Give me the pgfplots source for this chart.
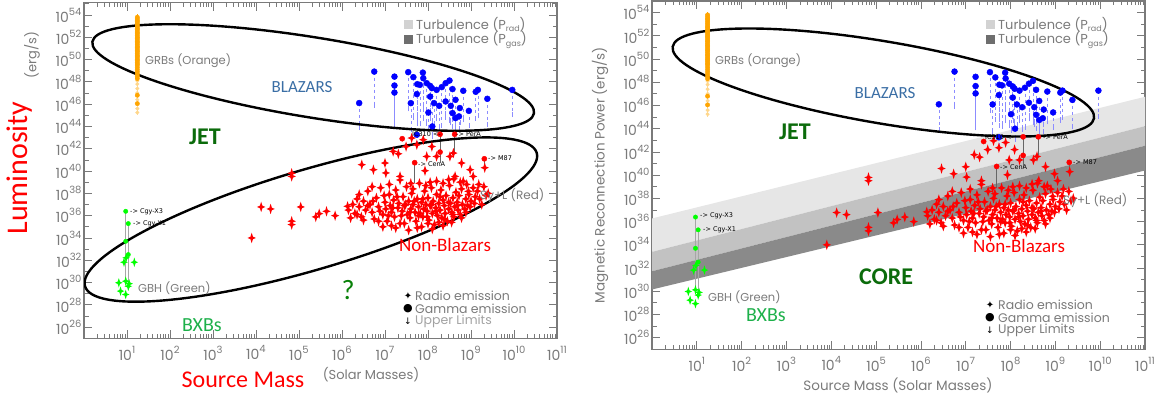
\documentclass[border=0pt]{standalone}
\usepackage{fontspec}
\setmainfont{Poppins}
\newfontfamily\carl{Carlito}
\newfontfamily\dejavu{DejaVu Sans}
\usepackage{pgfplots}
\usepackage{pgfplotstable}
\pgfplotsset{compat=1.18}

\definecolor{tgray}{HTML}{7A7A7A}
\definecolor{blz}{HTML}{3A6EA5}
\definecolor{jetg}{HTML}{0B6B0B}
\definecolor{bxb}{HTML}{1DB04A}
\definecolor{lband}{HTML}{E6E6E6}
\definecolor{mband}{HTML}{C2C2C2}
\definecolor{dband}{HTML}{8A8A8A}
\definecolor{lime}{HTML}{00FF00}
\definecolor{grbc}{HTML}{FFA500}
\definecolor{blue1}{HTML}{0000FF}

\newcommand{\tl}[1]{10\raisebox{0.5em}{\fontsize{10}{10}\selectfont #1}}

\pgfdeclareplotmark{sparkle}{%
 \pgfpathmoveto{\pgfqpoint{0pt}{1.25\pgfplotmarksize}}%
 \pgfpathlineto{\pgfqpoint{0.3\pgfplotmarksize}{0.3\pgfplotmarksize}}%
 \pgfpathlineto{\pgfqpoint{\pgfplotmarksize}{0pt}}%
 \pgfpathlineto{\pgfqpoint{0.3\pgfplotmarksize}{-0.3\pgfplotmarksize}}%
 \pgfpathlineto{\pgfqpoint{0pt}{-1.25\pgfplotmarksize}}%
 \pgfpathlineto{\pgfqpoint{-0.3\pgfplotmarksize}{-0.3\pgfplotmarksize}}%
 \pgfpathlineto{\pgfqpoint{-\pgfplotmarksize}{0pt}}%
 \pgfpathlineto{\pgfqpoint{-0.3\pgfplotmarksize}{0.3\pgfplotmarksize}}%
 \pgfpathclose\pgfusepathqfill}

% log10(mass)  log10(L)  error
\pgfplotstableread{
x y e
1.24 53.80 0.25
1.24 53.65 0.25
1.24 53.50 0.25
1.24 53.40 0.25
1.24 53.25 0.25
1.24 53.10 0.25
1.24 52.95 0.25
1.24 52.80 0.25
1.24 52.70 0.25
1.24 52.55 0.25
1.24 52.40 0.25
1.24 52.30 0.25
1.24 52.15 0.25
1.24 52.00 0.25
1.24 51.90 0.25
1.24 51.75 0.25
1.24 51.60 0.25
1.24 51.50 0.25
1.24 51.35 0.25
1.24 51.20 0.25
1.24 51.10 0.25
1.24 50.95 0.25
1.24 50.80 0.25
1.24 50.70 0.25
1.24 50.55 0.25
1.24 50.40 0.25
1.24 50.30 0.25
1.24 50.15 0.25
1.24 50.00 0.25
1.24 49.90 0.25
1.24 49.75 0.25
1.24 49.60 0.25
1.24 49.50 0.25
1.24 49.30 0.25
1.24 49.10 0.25
1.24 48.90 0.25
1.24 48.70 0.25
1.24 48.50 0.25
1.24 48.30 0.25
1.24 46.80 0.15
1.24 46.05 0.15
}\grb

\pgfplotstableread{
x y e
1.24 48.10 0.3
1.24 47.80 0.3
1.24 47.40 0.3
1.24 47.00 0.3
1.24 46.40 0.3
1.24 45.60 0.3
1.24 45.25 0.2
}\grbfaint

\pgfplotstableread{
x y e
6.40 46.10 2.2
6.75 48.92 3.0
7.22 48.47 4.4
7.22 47.67 3.2
7.22 47.04 2.6
7.54 48.87 3.3
7.66 48.42 3.6
7.88 48.83 4.1
7.89 48.33 2.5
7.75 47.79 2.8
7.81 47.73 3.5
7.97 47.88 3.6
8.05 47.64 2.2
8.09 47.44 3.1
8.20 47.28 2.6
8.32 47.53 3.4
8.41 47.88 2.7
8.50 48.12 3.6
8.57 47.35 2.5
8.82 47.20 2.6
9.11 47.11 2.4
9.16 47.28 2.3
9.38 46.48 2.3
9.96 47.28 2.2
7.74 46.90 2.6
8.05 46.68 2.0
8.14 46.09 1.8
8.26 45.85 1.9
8.41 46.24 1.4
8.64 46.39 2.0
8.53 45.85 1.5
8.74 45.65 1.3
7.60 46.09 2.4
8.01 45.25 1.4
8.57 45.20 1.2
8.64 44.75 1.0
8.72 44.90 1.1
8.95 45.40 1.3
8.10 44.00 0.9
7.74 43.26 0.8
}\blz

\pgfplotstableread{
x y
8.28 43.30
8.62 43.30
8.28 41.70
7.69 40.75
9.31 41.10
7.40 42.90
}\redgamma

\pgfplotstableread{
x y
7.62 42.96
7.89 42.81
7.19 41.76
7.31 41.55
7.49 42.20
7.74 42.36
8.09 42.20
7.97 41.31
8.20 41.31
8.59 41.61
8.51 41.31
7.00 40.72
6.46 40.57
6.73 40.12
7.93 40.03
7.02 39.83
7.35 39.52
9.32 40.30
8.78 40.72
8.98 40.12
8.63 39.52
8.48 39.23
8.20 39.08
8.82 39.08
8.94 38.18
9.05 39.52
4.83 39.52
4.83 39.80
3.90 34.00
4.12 36.78
4.34 36.60
4.83 35.20
4.83 35.50
5.04 36.78
5.39 35.89
5.47 36.18
5.64 36.39
5.84 36.00
6.13 36.84
6.15 36.5
6.25 37.0
6.30 36.2
6.35 37.5
6.40 36.8
6.45 35.9
6.50 37.3
6.55 36.5
6.60 38.2
6.65 37.0
6.70 36.3
6.75 35.7
6.80 37.6
6.85 36.8
6.90 38.5
6.95 36.1
7.00 37.2
7.02 36.6
7.05 35.5
7.10 37.9
7.12 36.9
7.15 36.3
7.20 37.4
7.22 35.9
7.25 38.3
7.30 36.7
7.32 37.1
7.35 35.3
7.40 36.4
7.42 37.7
7.45 36.9
7.50 38.6
7.52 36.1
7.55 37.3
7.58 35.8
7.60 36.6
7.62 38.0
7.65 37.0
7.70 36.3
7.72 35.5
7.75 37.5
7.78 36.8
7.80 38.9
7.82 36.2
7.85 37.2
7.88 35.9
7.90 36.6
7.92 38.2
7.95 37.0
7.98 36.4
8.00 37.6
8.02 35.6
8.05 36.9
8.08 38.5
8.10 36.2
8.12 37.3
8.15 35.2
8.18 36.7
8.20 37.9
8.22 36.0
8.25 37.1
8.28 36.5
8.30 38.3
8.32 35.8
8.35 37.4
8.38 36.9
8.40 36.2
8.42 37.8
8.45 35.5
8.48 36.6
8.50 38.7
8.52 37.1
8.55 36.3
8.58 37.6
8.60 35.9
8.62 36.8
8.65 38.1
8.68 37.2
8.70 36.5
8.72 37.8
8.75 36.1
8.78 38.4
8.80 37.0
8.85 36.6
8.88 37.5
8.90 38.8
8.92 36.9
8.95 37.9
9.00 37.3
9.05 38.5
9.10 37.7
9.15 38.2
9.20 37.5
9.30 38.6
9.40 38.0
7.10 38.8
7.35 39.2
7.60 38.9
6.95 35.0
7.25 34.9
7.55 34.7
7.85 35.0
8.10 34.8
8.35 35.1
8.05 39.0
8.60 39.3
6.20 35.8
6.35 36.1
6.50 35.6
6.60 36.9
6.72 37.3
6.88 36.4
6.98 37.8
7.08 36.0
7.18 36.7
7.28 37.7
7.38 36.0
7.48 37.0
7.58 36.3
7.68 37.3
7.78 36.0
7.88 37.5
7.98 35.9
8.08 37.0
8.18 36.4
8.28 37.7
8.38 35.7
8.48 37.2
8.58 36.1
8.68 36.9
8.78 35.8
8.88 36.3
8.98 36.8
9.08 37.1
9.18 38.8
9.25 37.0
9.35 37.8
7.45 35.3
7.75 34.9
8.00 35.3
8.25 35.4
8.55 35.4
6.85 35.5
7.15 35.1
7.65 38.4
7.95 38.7
8.35 38.9
8.75 39.0
6.70 38.6
6.40 37.9
}\redr

\pgfplotstableread{
x y
0.97 36.39
1.03 35.29
0.97 33.70
1.03 32.51
}\greeng

\pgfplotstableread{
x y
0.98 32.22
0.93 31.82
1.17 31.82
0.81 29.98
0.97 30.12
1.03 29.67
1.05 29.90
0.85 29.23
0.97 28.93
}\greenr

\pgfplotsset{
 mystyle/.style={
  scale only axis, anchor=south west,
  xmin=0, xmax=11,
  axis line style={tgray, line width=1.1pt},
  tick style={tgray, line width=0.8pt},
  major tick length=8pt, minor tick length=4.5pt,
  xtick={1,2,3,4,5,6,7,8,9,10,11},
  xticklabels={\tl{1},\tl{2},\tl{3},\tl{4},\tl{5},\tl{6},\tl{7},\tl{8},\tl{9},\tl{10},\tl{11}},
  ytick={26,28,30,32,34,36,38,40,42,44,46,48,50,52,54},
  yticklabels={\tl{26},\tl{28},\tl{30},\tl{32},\tl{34},\tl{36},\tl{38},\tl{40},\tl{42},\tl{44},\tl{46},\tl{48},\tl{50},\tl{52},\tl{54}},
  minor ytick={25,27,29,31,33,35,37,39,41,43,45,47,49,51,53,55},
  minor xtick={0.301,0.477,0.602,0.699,0.778,0.845,0.903,0.954,
   1.301,1.477,1.602,1.699,1.778,1.845,1.903,1.954,
   2.301,2.477,2.602,2.699,2.778,2.845,2.903,2.954,
   3.301,3.477,3.602,3.699,3.778,3.845,3.903,3.954,
   4.301,4.477,4.602,4.699,4.778,4.845,4.903,4.954,
   5.301,5.477,5.602,5.699,5.778,5.845,5.903,5.954,
   6.301,6.477,6.602,6.699,6.778,6.845,6.903,6.954,
   7.301,7.477,7.602,7.699,7.778,7.845,7.903,7.954,
   8.301,8.477,8.602,8.699,8.778,8.845,8.903,8.954,
   9.301,9.477,9.602,9.699,9.778,9.845,9.903,9.954,
   10.301,10.477,10.602,10.699,10.778,10.845,10.903,10.954},
  ticklabel style={font=\fontsize{14}{14}\selectfont, text=tgray},
  xticklabel style={yshift=-4pt},
  yticklabel style={xshift=1pt},
 }
}

\newcommand{\commonplots}{%
 \addplot[gray!70, line width=0.9pt] coordinates {(0.97,36.39) (0.97,30.1)};
 \addplot[gray!70, line width=0.9pt] coordinates {(1.03,35.29) (1.03,29.7)};
 \addplot[gray!80!black, line width=0.9pt] coordinates {(7.69,40.75) (7.69,38.9)};
 \addplot[gray!80!black, line width=0.9pt] coordinates {(8.28,43.3) (8.28,40.7)};
 \addplot[gray!80!black, line width=0.9pt] coordinates {(8.62,43.3) (8.62,41.7)};
 \addplot[gray!80!black, line width=0.9pt] coordinates {(9.31,41.1) (9.31,40.2)};
 \addplot[only marks, mark=*, mark size=1.8pt, color=grbc!45,
   error bars/.cd, y dir=both, y explicit, error bar style={grbc!40, line width=0.8pt}, error mark=none]
   table[x=x, y=y, y error=e] {\grbfaint};
 \addplot[only marks, mark=*, mark size=2.2pt, color=grbc,
   error bars/.cd, y dir=both, y explicit, error bar style={grbc, line width=1.2pt}, error mark=none]
   table[x=x, y=y, y error=e] {\grb};
 \addplot[only marks, mark=*, mark size=3.0pt, color=blue1,
   error bars/.cd, y dir=minus, y explicit,
   error bar style={blue1!45, dashed, line width=0.6pt},
   error mark options={blue1!45, mark size=2.5pt, line width=0.6pt, solid}]
   table[x=x, y=y, y error=e] {\blz};
 \addplot[only marks, mark=sparkle, mark size=4.2pt, color=red] table[x=x, y=y] {\redr};
 \addplot[only marks, mark=*, mark size=2.6pt, color=red] table[x=x, y=y] {\redgamma};
 \addplot[only marks, mark=sparkle, mark size=3.8pt, color=lime] table[x=x, y=y] {\greenr};
 \addplot[only marks, mark=*, mark size=2.2pt, color=lime] table[x=x, y=y] {\greeng};
}

\begin{document}
\begin{tikzpicture}[x=1pt, y=1pt]
\useasboundingbox (0,0) rectangle (1172,401);

% ---------------- left panel ----------------
\begin{axis}[mystyle, at={(84pt,62.7pt)}, width=473pt, height=335.6pt, ymin=25, ymax=55.1]
 \commonplots
 \draw[line width=2.4pt, shift={(axis cs:5.33,48.39)}, rotate=-9.2] (0pt,0pt) ellipse [x radius=223.7pt, y radius=40pt];
 \draw[line width=2.4pt, shift={(axis cs:5.276,35.65)}, rotate=16.45] (0pt,0pt) ellipse [x radius=235.5pt, y radius=50pt];
\end{axis}

% ---------------- right panel ----------------
\begin{axis}[mystyle, at={(652pt,51.7pt)}, width=493pt, height=348.3pt, ymin=25, ymax=55]
 \addplot[fill=lband, draw=none] coordinates {(0,36.27) (11,46.75) (11,44.22) (0,33.39)} -- cycle;
 \addplot[fill=mband, draw=none] coordinates {(0,33.39) (11,44.22) (11,42.53) (0,31.72)} -- cycle;
 \addplot[fill=dband, draw=none] coordinates {(0,31.72) (11,42.53) (11,40.4) (0,30.15)} -- cycle;
 \commonplots
 \draw[line width=2.4pt, shift={(axis cs:5.162,47.98)}, rotate=-9.65] (0pt,0pt) ellipse [x radius=213.7pt, y radius=41pt];
\end{axis}

% ---------------- texts, left ----------------
\begin{scope}[every node/.style={inner sep=0pt}]
\node[anchor=west, text=tgray, font=\fontsize{11.5}{12}\selectfont] at (145,340) {GRBs (Orange)};
\node[text=blz, font=\carl\fontsize{17}{17}\selectfont] at (302,314) {BLAZARS};
\node[text=jetg, font=\carl\bfseries\fontsize{24}{24}\selectfont] at (205,264) {JET};
\node[anchor=west, text=tgray, font=\fontsize{12}{12}\selectfont] at (480,206) {Sy+L (Red)};
\node[text=red, font=\carl\fontsize{19}{19}\selectfont] at (445,156) {Non-Blazars};
\node[text=jetg!85!green, font=\carl\fontsize{28}{28}\selectfont] at (348,111) {?};
\node[anchor=west, text=tgray, font=\fontsize{11.5}{12}\selectfont] at (138,113) {GBH (Green)};
\node[text=bxb, font=\carl\fontsize{20}{20}\selectfont] at (202,76) {BXBs};
\node[rotate=90, text=red, font=\carl\fontsize{30}{30}\selectfont] at (20,233) {Luminosity};
\node[rotate=90, text=tgray, font=\fontsize{13}{13}\selectfont] at (32,346) {(erg/s)};
\node[text=red, font=\carl\fontsize{24}{24}\selectfont] at (243,21) {Source Mass};
\node[text=tgray, font=\fontsize{13}{13}\selectfont] at (371,26) {(Solar Masses)};
\node[anchor=west, font=\dejavu\fontsize{6.5}{7}\selectfont] at (130,189) {-> Cgy-X3};
\node[anchor=west, font=\dejavu\fontsize{6.5}{7}\selectfont] at (133,177) {-> Cgy-X1};
\node[anchor=east, font=\dejavu\fontsize{6.5}{7}\selectfont] at (441,267) {IC310 <-};
\node[anchor=west, font=\dejavu\fontsize{6.5}{7}\selectfont] at (456,267) {-> PerA};
\node[anchor=west, font=\dejavu\fontsize{6.5}{7}\selectfont] at (418,237) {-> CenA};
\node[anchor=west, font=\dejavu\fontsize{6.5}{7}\selectfont] at (488,243) {-> M87};
\fill[lband!80!gray] (403.5,371.5) rectangle ++(9,9);
\fill[dband!80!black] (403.5,356.5) rectangle ++(9,9);
\node[anchor=west, text=tgray, font=\fontsize{13}{13}\selectfont] at (416,376) {Turbulence (P\raisebox{-0.1em}{\fontsize{8}{8}\selectfont rad})};
\node[anchor=west, text=tgray, font=\fontsize{13}{13}\selectfont] at (416,361) {Turbulence (P\raisebox{-0.2em}{\fontsize{8}{8}\selectfont gas})};
\node[font=\dejavu\fontsize{10}{10}\selectfont] at (408,105) {✦};
\node[font=\dejavu\fontsize{11}{11}\selectfont] at (408,92.5) {●};
\node[font=\dejavu\fontsize{9}{9}\selectfont] at (408,80) {↓};
\node[anchor=west, text=tgray, font=\fontsize{12.5}{12.5}\selectfont] at (415,105) {Radio emission};
\node[anchor=west, text=tgray, font=\fontsize{12.5}{12.5}\selectfont] at (415,92.5) {Gamma emission};
\node[anchor=west, text=tgray!70, font=\fontsize{12.5}{12.5}\selectfont] at (415,80) {Upper Limits};

% ---------------- texts, right ----------------
\node[anchor=west, text=tgray, font=\fontsize{11.5}{12}\selectfont] at (715,340) {GRBs (Orange)};
\node[text=blz, font=\carl\fontsize{17}{17}\selectfont] at (885,308) {BLAZARS};
\node[text=jetg, font=\carl\bfseries\fontsize{24}{24}\selectfont] at (795,269) {JET};
\node[anchor=west, text=tgray, font=\fontsize{12}{12}\selectfont] at (1063,201) {Sy+L (Red)};
\node[text=red, font=\carl\fontsize{19}{19}\selectfont] at (1019,155) {Non-Blazars};
\node[text=jetg, font=\carl\bfseries\fontsize{24}{24}\selectfont] at (886,124) {CORE};
\node[anchor=west, text=tgray, font=\fontsize{11.5}{12}\selectfont] at (708,104) {GBH (Green)};
\node[text=bxb, font=\carl\fontsize{20}{20}\selectfont] at (766,86) {BXBs};
\node[rotate=90, text=tgray, font=\fontsize{13.5}{14}\selectfont] at (600,226) {Magnetic Reconnection Power (erg/s)};
\node[text=tgray, font=\fontsize{13.5}{14}\selectfont] at (898,16) {Source Mass (Solar Masses)};
\node[anchor=west, font=\dejavu\fontsize{6.5}{7}\selectfont] at (700,185) {-> Cgy-X3};
\node[anchor=west, font=\dejavu\fontsize{6.5}{7}\selectfont] at (703,171) {-> Cgy-X1};
\node[anchor=east, font=\dejavu\fontsize{6.5}{7}\selectfont] at (1014,264) {IC310 <-};
\node[anchor=west, font=\dejavu\fontsize{6.5}{7}\selectfont] at (1043,264) {-> PerA};
\node[anchor=west, font=\dejavu\fontsize{6.5}{7}\selectfont] at (1000,234) {-> CenA};
\node[anchor=west, font=\dejavu\fontsize{6.5}{7}\selectfont] at (1073,239) {-> M87};
\fill[lband!80!gray] (985.5,371.5) rectangle ++(9,9);
\fill[dband!80!black] (985.5,356.5) rectangle ++(9,9);
\node[anchor=west, text=tgray, font=\fontsize{13}{13}\selectfont] at (998,376) {Turbulence (P\raisebox{-0.1em}{\fontsize{8}{8}\selectfont rad})};
\node[anchor=west, text=tgray, font=\fontsize{13}{13}\selectfont] at (998,361) {Turbulence (P\raisebox{-0.2em}{\fontsize{8}{8}\selectfont gas})};
\node[font=\dejavu\fontsize{10}{10}\selectfont] at (990,96) {✦};
\node[font=\dejavu\fontsize{11}{11}\selectfont] at (990,83.5) {●};
\node[font=\dejavu\fontsize{9}{9}\selectfont] at (990,71) {↓};
\node[anchor=west, text=tgray, font=\fontsize{12.5}{12.5}\selectfont] at (998,96) {Radio emission};
\node[anchor=west, text=tgray, font=\fontsize{12.5}{12.5}\selectfont] at (998,83.5) {Gamma emission};
\node[anchor=west, text=tgray, font=\fontsize{12.5}{12.5}\selectfont] at (998,71) {Upper Limits};
\end{scope}
\end{tikzpicture}
\end{document}
